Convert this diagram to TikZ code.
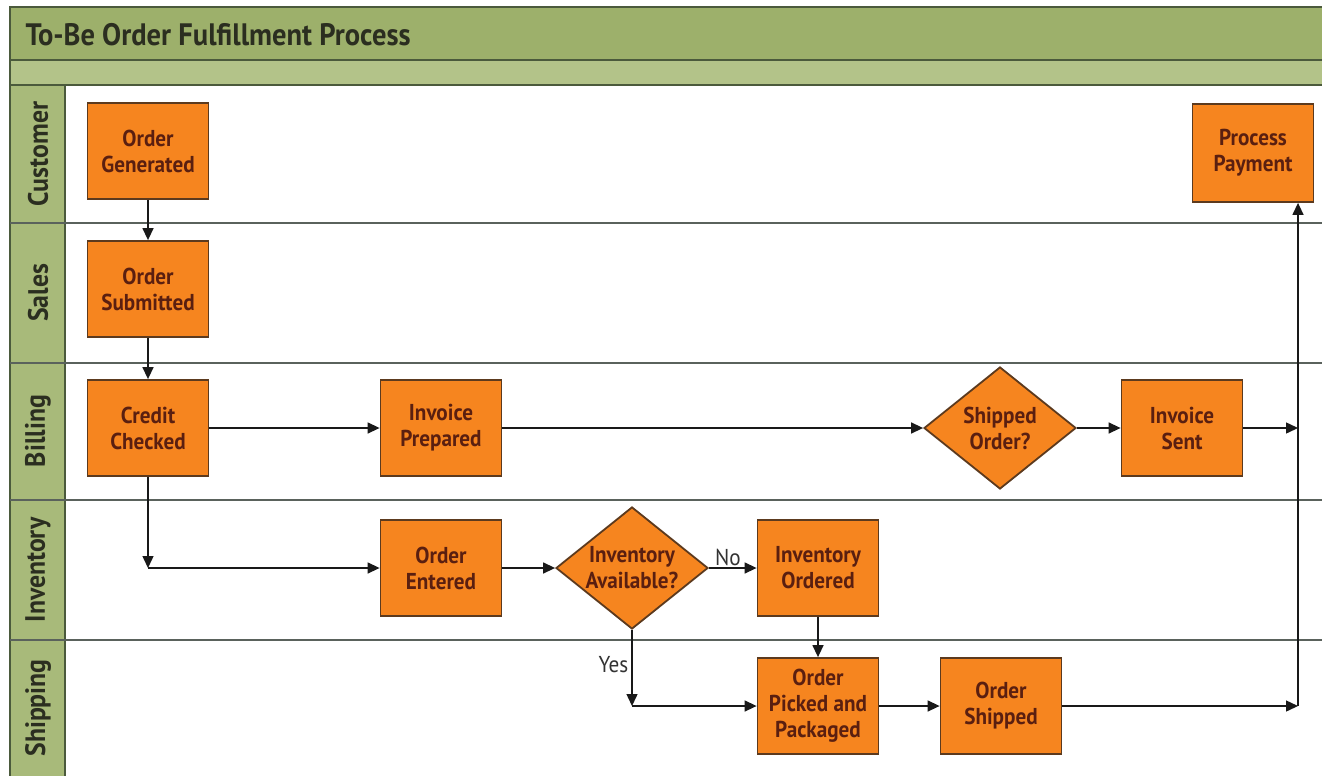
\documentclass[tikz,border=0pt]{standalone}
\usepackage{fontspec}
\setmainfont{PT Sans}[FakeStretch=0.92]
\usetikzlibrary{shapes.geometric,arrows.meta}
\definecolor{hdr}{HTML}{9DB06B}
\definecolor{band}{HTML}{B3C389}
\definecolor{lanec}{HTML}{A8BA7A}
\definecolor{framec}{HTML}{4B5A3C}
\definecolor{boxfill}{HTML}{F6851F}
\definecolor{boxline}{HTML}{5C3A1E}
\definecolor{boxtext}{HTML}{5A1F10}
\definecolor{laneline}{HTML}{5A625C}
\definecolor{lbltext}{HTML}{2B2E20}
\tikzset{
  procbox/.style={draw=boxline, line width=1.8pt, fill=boxfill, minimum width=121pt, minimum height=96pt,
    inner sep=0pt, align=center, text=boxtext, font=\fontsize{23}{26}\selectfont\bfseries},
  decbox/.style={diamond, draw=boxline, line width=1.8pt, fill=boxfill, minimum width=152pt, minimum height=122pt,
    inner sep=0pt},
  dectext/.style={align=center, text=boxtext, font=\fontsize{23}{26}\selectfont\bfseries, inner sep=0pt},
  flow/.style={draw=black!90, line width=1.4pt, -{Triangle[length=12pt,width=11pt]}},
  lanelbl/.style={rotate=90, text=lbltext, font=\fontsize{28}{30}\selectfont\bfseries},
  edgelbl/.style={text=black!80, font=\fontsize{23}{26}\selectfont},
}
\begin{document}
\begin{tikzpicture}[x=1pt,y=-1pt]
\useasboundingbox (0,0) rectangle (1322,776);
\fill[white] (0,0) rectangle (1322,776);
% header and lanes
\fill[hdr] (10,7) rectangle (1322,60);
\fill[band] (10,60) rectangle (1322,85);
\fill[lanec] (10,85) rectangle (65,776);
\draw[framec, line width=1.5pt] (1322,7) -- (10,7) -- (10,776);
\draw[framec, line width=1.5pt] (10,60) -- (1322,60);
\draw[framec, line width=1.5pt] (10,85) -- (1322,85);
\draw[framec, line width=1.5pt] (65,85) -- (65,776);
\foreach \y in {223,363,500,640} {
  \draw[laneline, line width=1.3pt] (10,\y) -- (1322,\y);
}
\node[anchor=west, text=lbltext, font=\fontsize{31}{34}\selectfont\bfseries] (title) at (22,35) {To-Be Order Fulfillment Process};
\node[lanelbl] (l-cust) at (38,154) {Customer};
\node[lanelbl] (l-sales) at (38,293) {Sales};
\node[lanelbl] (l-bill) at (38,431) {Billing};
\node[lanelbl] (l-inv) at (38,570) {Inventory};
\node[lanelbl] (l-ship) at (38,708) {Shipping};
% process nodes
\node[procbox] (og) at (148,151) {Order\\Generated};
\node[procbox] (os) at (148,289) {Order\\Submitted};
\node[procbox] (cc) at (148,428) {Credit\\Checked};
\node[procbox] (ip) at (441,428) {Invoice\\Prepared};
\node[decbox] (sho) at (1000,428) {};
\node[dectext] (sho-t) at (sho) {Shipped\\Order?};
\node[procbox] (is) at (1182,428) {Invoice\\Sent};
\node[procbox, minimum height=98pt] (pp) at (1253,153) {Process\\Payment};
\node[procbox] (oe) at (441,568) {Order\\Entered};
\node[decbox] (ia) at (632,568) {};
\node[dectext] (ia-t) at (ia) {Inventory\\Available?};
\node[procbox] (io) at (818,568) {Inventory\\Ordered};
\node[procbox] (opp) at (818,706) {Order\\Picked and\\Packaged};
\node[procbox] (osh) at (1001,706) {Order\\Shipped};
% junction points
\coordinate (c1) at (148,568);
\coordinate (y1) at (632,706);
\coordinate (r1) at (1298,428);
\coordinate (r2) at (1298,706);
% connectors
\draw[flow] (og) -- (os);
\draw[flow] (os) -- (cc);
\draw[flow] (cc) -- (ip);
\draw[flow] (cc) -- (c1);
\draw[flow] (c1) -- (oe);
\draw[flow] (ip) -- (sho);
\draw[flow] (sho) -- (is);
\draw[flow] (is) -- (r1);
\draw[flow] (osh) -- (r2);
\draw[flow] (r2) -- (r2 |- pp.south);
\draw[flow] (oe) -- (ia);
\draw[flow] (ia) -- node[edgelbl, above, pos=0.4, inner sep=2pt] (no) {No} (io);
\draw[flow] (ia) -- node[edgelbl, left, pos=0.45, inner sep=3pt] (yes) {Yes} (y1);
\draw[flow] (y1) -- (opp);
\draw[flow] (io) -- (opp);
\draw[flow] (opp) -- (osh);
\end{tikzpicture}
\end{document}
